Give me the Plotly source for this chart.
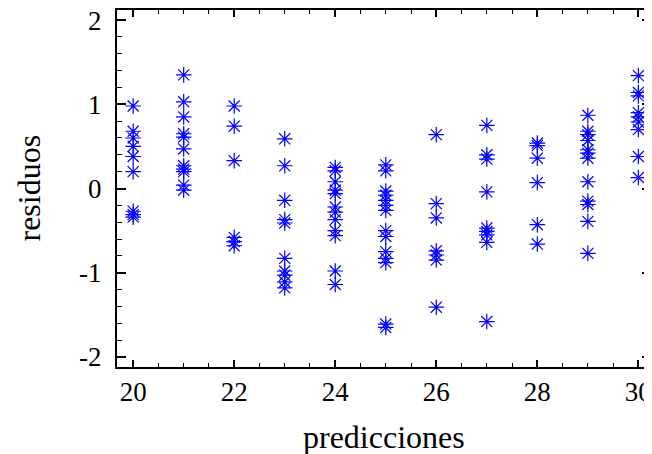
import plotly.graph_objects as go

# Residuals grouped by predicted value
pred_values = [20, 21, 22, 23, 24, 25, 26, 27, 28, 29, 30]
res_20 = [0.98, 0.68, 0.60, 0.50, 0.38, 0.20, -0.27, -0.31, -0.34]
res_21 = [1.35, 1.03, 0.85, 0.65, 0.61, 0.47, 0.27, 0.23, 0.20, 0.04, -0.02]
res_22 = [0.98, 0.74, 0.33, -0.58, -0.63, -0.68]
res_23 = [0.59, 0.27, -0.14, -0.37, -0.41, -0.83, -0.98, -1.03, -1.11, -1.18]
res_24 = [0.25, 0.21, 0.08, -0.02, -0.06, -0.22, -0.28, -0.37, -0.50, -0.56, -0.98, -1.14]
res_25 = [0.28, 0.21, -0.03, -0.08, -0.14, -0.20, -0.26, -0.50, -0.57, -0.75, -0.83, -0.88, -1.61, -1.65]
res_26 = [0.64, -0.18, -0.35, -0.74, -0.79, -0.85, -1.41]
res_27 = [0.75, 0.40, 0.35, -0.04, -0.47, -0.51, -0.55, -0.64, -1.58]
res_28 = [0.54, 0.51, 0.36, 0.07, -0.43, -0.66]
res_29 = [0.87, 0.68, 0.64, 0.57, 0.46, 0.42, 0.36, 0.08, -0.15, -0.19, -0.39, -0.77]
res_30 = [1.34, 1.14, 1.10, 0.90, 0.85, 0.79, 0.70, 0.38, 0.13]

groups = [res_20, res_21, res_22, res_23, res_24, res_25, res_26, res_27, res_28, res_29, res_30]

x_tick_vals = [20, 22, 24, 26, 28, 30]
x_tick_text = ["20", "22", "24", "26", "28", "30"]
y_tick_vals = [-2, -1, 0, 1, 2]
y_tick_text = ["-2", "-1", "0", "1", "2"]
x_title = "predicciones"
y_title = "residuos"

xs, ys = [], []
for p, g in zip(pred_values, groups):
    xs.extend([p] * len(g))
    ys.extend(g)

fig = go.Figure()
fig.add_trace(go.Scatter(
    x=xs, y=ys, mode="markers",
    marker=dict(symbol="asterisk-open", size=13, color="#0000ff",
                line=dict(color="#0000ff", width=1.2)),
    showlegend=False,
))

FONT = "Liberation Serif"

# page body has an 8px margin, so the figure is sized to fit the window
fig.update_layout(
    width=644, height=446,
    margin=dict(l=109, r=1, t=2, b=87, autoexpand=False),
    paper_bgcolor="white", plot_bgcolor="white",
    font=dict(family=FONT, color="black", size=27),
)
fig.update_xaxes(
    range=[19.68, 30.25], tickvals=x_tick_vals, ticktext=x_tick_text,
    automargin=False, ticklabeloverflow="allow",
    showgrid=False, zeroline=False,
    showline=True, linecolor="black", linewidth=2, mirror="allticks",
    ticks="inside", ticklen=7, tickwidth=1.5, tickcolor="black",
    minor=dict(dtick=0.5, ticks="inside", ticklen=4, tickwidth=1.2, tickcolor="black", showgrid=False),
    tickfont=dict(family=FONT, size=27, color="black"),
    ticklabelstandoff=0,
)
fig.update_yaxes(
    range=[-2.12, 2.12], tickvals=y_tick_vals, ticktext=y_tick_text,
    automargin=False, ticklabeloverflow="allow",
    showgrid=False, zeroline=False,
    showline=True, linecolor="black", linewidth=2, mirror="allticks",
    ticks="inside", ticklen=9, tickwidth=1.5, tickcolor="black",
    minor=dict(dtick=0.2, ticks="inside", ticklen=5, tickwidth=1.2, tickcolor="black", showgrid=False),
    tickfont=dict(family=FONT, size=27, color="black"),
    ticklabelstandoff=8,
)
fig.add_annotation(
    text=x_title, xref="paper", yref="paper", x=0.5, y=0,
    xanchor="center", yanchor="middle", yshift=-70, showarrow=False,
    font=dict(family=FONT, size=32, color="black"),
)
fig.add_annotation(
    text=y_title, xref="paper", yref="paper", x=0, y=0.5,
    xanchor="center", yanchor="middle", xshift=-89, textangle=-90, showarrow=False,
    font=dict(family=FONT, size=32, color="black"),
)

fig.write_html("out.html")
